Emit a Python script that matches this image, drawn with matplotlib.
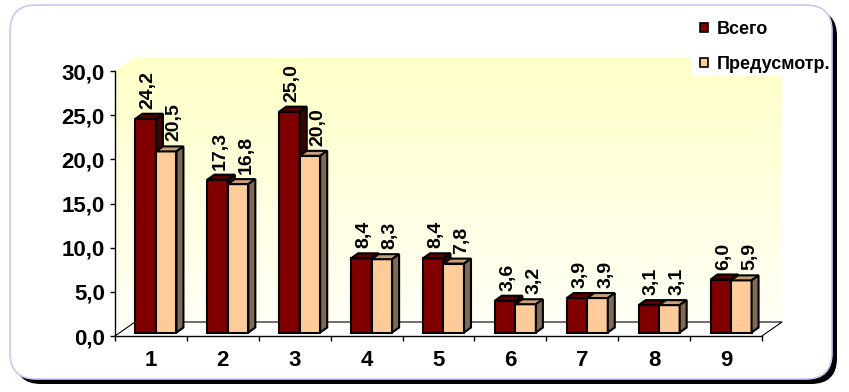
import matplotlib
matplotlib.use('Agg')
import matplotlib.pyplot as plt
import numpy as np
from matplotlib.patches import Polygon, FancyBboxPatch, Patch, Rectangle
from matplotlib.colors import LinearSegmentedColormap

categories = ['1', '2', '3', '4', '5', '6', '7', '8', '9']
vsego = [24.2, 17.3, 25.0, 8.4, 8.4, 3.6, 3.9, 3.1, 6.0]
predusm = [20.5, 16.8, 20.0, 8.3, 7.8, 3.2, 3.9, 3.1, 5.9]
series_names = ['Всего', 'Предусмотр.']
yticks = [0, 5, 10, 15, 20, 25, 30]

W, H = 849, 392
plt.rcParams['font.family'] = ['Liberation Sans', 'DejaVu Sans']
plt.rcParams['font.weight'] = 'bold'
fig = plt.figure(figsize=(W / 100, H / 100), dpi=100)

# rounded outer frame with black shadow, drawn in pixel coords
bg = fig.add_axes([0, 0, 1, 1], zorder=0)
bg.set_xlim(0, W)
bg.set_ylim(H, 0)
bg.axis('off')
bg.add_patch(FancyBboxPatch((15, 10), 822, 374, boxstyle='round,pad=0,rounding_size=26',
                            fc='black', ec='black', lw=0))
bg.add_patch(FancyBboxPatch((10, 5), 822, 374, boxstyle='round,pad=0,rounding_size=26',
                            fc='white', ec='#c8c8f4', lw=1.2))

# main plot area: x 115..762 px, y 336..71 px
ax = fig.add_axes([115 / W, 56 / H, 647 / W, 265 / H], zorder=1)
ax.patch.set_visible(False)
sx = 647 / 9          # px per category
sy = 265 / 30         # px per unit
ddx, ddy = 20 / sx, 14 / sy   # full depth of the chart
f0 = 0.25                     # bars' front plane
bdx, bdy = 7 / sx, 5 / sy     # bar depth

# back wall + left side wall with yellow gradient
wall = Polygon([(0.5, 0), (0.5, 30), (0.5 + ddx, 30 + ddy), (9.5 + ddx, 30 + ddy),
                (9.5 + ddx, ddy), (0.5 + ddx, ddy)], closed=True, transform=ax.transData)
cmap = LinearSegmentedColormap.from_list('wall', ['#fffff8', '#ffffc8'])
grad = np.linspace(0, 1, 256).reshape(-1, 1)
im = ax.imshow(grad, cmap=cmap, origin='lower', aspect='auto',
               extent=(0.5, 9.5 + ddx, 0, 30 + ddy), zorder=0)
im.set_clip_box(fig.bbox)
im.set_clip_path(wall)

# white legend area hides the wall corner
ax.add_artist(Rectangle((692 / W, 1 - 76 / H), 100 / W, 30 / H, transform=fig.transFigure,
                        fc='white', ec='none', zorder=0.5, clip_on=False))

# floor edges
ax.plot([0.5, 0.5 + ddx, 9.5 + ddx, 9.5], [0, ddy, ddy, 0], color='black', lw=0.8,
        clip_on=False, zorder=1)

x = np.arange(1, len(categories) + 1)
w = 20.5 / sx
styles = [
    (vsego, -1, '#800000', '#5e0000', '#400000', -0.7),
    (predusm, 0, '#ffcc99', '#c99f78', '#7f6a55', 3.3),
]
for k, (vals, shift, front, top, side, lab_dx) in enumerate(styles):
    z = 3 + k
    xl = x + shift * w + f0 * ddx
    base = f0 * ddy
    ax.bar(xl, vals, width=w, bottom=base, align='edge', color=front,
           edgecolor='black', lw=1.5, zorder=z, clip_on=False)
    for xi, v in zip(xl, vals):
        t = base + v
        ax.add_patch(Polygon([(xi, t), (xi + bdx, t + bdy), (xi + w + bdx, t + bdy), (xi + w, t)],
                             closed=True, fc=top, ec='black', lw=1.5, zorder=z, clip_on=False))
        ax.add_patch(Polygon([(xi + w, base), (xi + w + bdx, base + bdy), (xi + w + bdx, t + bdy),
                              (xi + w, t)], closed=True, fc=side, ec='black', lw=1.5, zorder=z,
                             clip_on=False))
        ax.annotate(f'{v:.1f}'.replace('.', ','), xy=(xi + w / 2 + bdx / 2, t + bdy),
                    xytext=(lab_dx, 3.6), textcoords='offset points', rotation=90,
                    ha='center', va='bottom', fontsize=14, fontweight='bold', zorder=6,
                    annotation_clip=False)

ax.set_xlim(0.5, 9.5)
ax.set_ylim(0, 30)
for s in ['top', 'right']:
    ax.spines[s].set_visible(False)
ax.spines['left'].set_linewidth(1)
ax.spines['bottom'].set_linewidth(1)

ax.set_yticks(yticks)
ax.set_yticklabels([f'{t:.1f}'.replace('.', ',') for t in yticks], fontsize=16, fontweight='bold')
ax.tick_params(axis='y', direction='out', length=3.6, width=1, pad=3.6)
ax.set_xticks(x)
ax.set_xticklabels(categories, fontsize=16, fontweight='bold')
ax.set_xticks(np.arange(0.5, 10, 1), minor=True)
ax.tick_params(axis='x', which='major', length=0, pad=10)
ax.tick_params(axis='x', which='minor', direction='out', length=3.6, width=1)

handles = [Patch(fc='#800000', ec='black', lw=1.2), Patch(fc='#ffcc99', ec='black', lw=1.2)]
leg = ax.legend(handles, series_names, loc='upper left', bbox_to_anchor=(692 / W, 1 - 13 / H),
                bbox_transform=fig.transFigure, frameon=False,
                prop={'size': 13, 'weight': 'bold'},
                handlelength=0.42, handleheight=0.42, handletextpad=0.5, labelspacing=1.0,
                borderpad=0.45, borderaxespad=0)
leg.set_zorder(10)

fig.savefig('out.png', dpi=100)
